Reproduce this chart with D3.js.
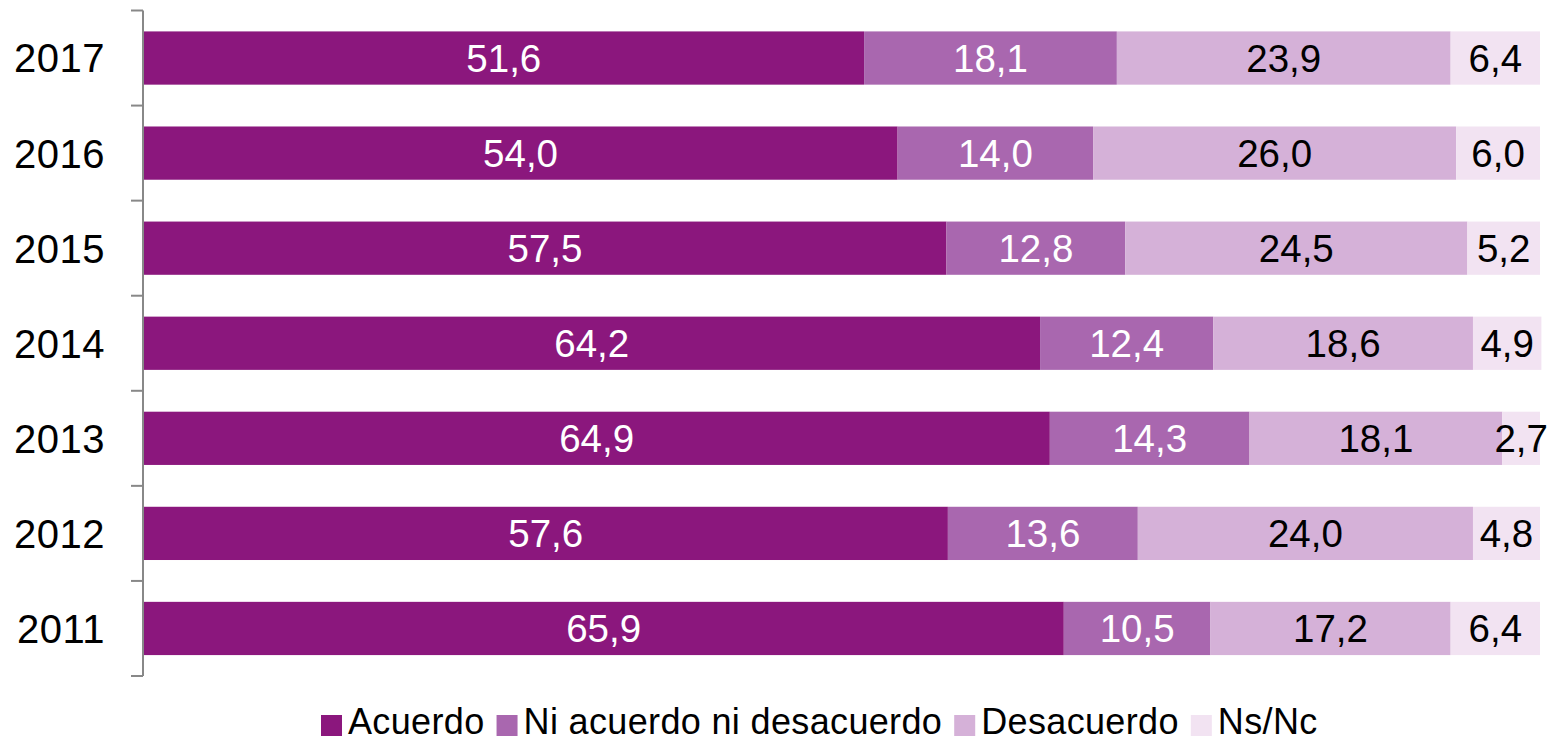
<!DOCTYPE html>
<html><head><meta charset="utf-8">
<script src="https://cdn.jsdelivr.net/npm/d3@7"></script>
<style>body{margin:0;background:#fff}svg{display:block}</style>
</head><body>
<svg id="chart" width="1551" height="742"></svg>
<script>
const years = ["2017","2016","2015","2014","2013","2012","2011"];
const seriesNames = ["Acuerdo","Ni acuerdo ni desacuerdo","Desacuerdo","Ns/Nc"];
const acuerdo    = [51.6, 54.0, 57.5, 64.2, 64.9, 57.6, 65.9];
const niAcuerdo  = [18.1, 14.0, 12.8, 12.4, 14.3, 13.6, 10.5];
const desacuerdo = [23.9, 26.0, 24.5, 18.6, 18.1, 24.0, 17.2];
const nsnc       = [6.4, 6.0, 5.2, 4.9, 2.7, 4.8, 6.4];
const colors = ["#8b177d","#a967af","#d5b1d8","#f2e3f2"];
const labelColors = ["#fff","#fff","#000","#000"];

const svg = d3.select("#chart");
const rows = years.map((y,i)=>({year:y, a:acuerdo[i], b:niAcuerdo[i], c:desacuerdo[i], d:nsnc[i]}));
const keys = ["a","b","c","d"];
const stack = d3.stack().keys(keys)(rows);

const x = d3.scaleLinear().domain([0,100]).range([143.5,1540]);
const y = d3.scaleBand().domain(years).range([10.5,676]).paddingInner(0.44).paddingOuter(0.22);

const fmt = v => v.toFixed(1).replace(".", ",");

stack.forEach((layer, k) => {
  svg.append("g").selectAll("rect").data(layer).join("rect")
    .attr("x", d => x(d[0])).attr("width", d => x(d[1]) - x(d[0]))
    .attr("y", d => y(d.data.year)).attr("height", y.bandwidth())
    .attr("fill", colors[k]);
});
stack.forEach((layer, k) => {
  svg.append("g").selectAll("text").data(layer).join("text")
    .attr("x", d => (x(d[0]) + x(d[1]))/2)
    .attr("y", d => y(d.data.year) + y.bandwidth()/2)
    .attr("dy", "0.36em")
    .attr("text-anchor","middle")
    .attr("font-family","'Liberation Sans', Arial, sans-serif")
    .attr("font-size", 38.5)
    .attr("fill", labelColors[k])
    .text(d => fmt(d.data[keys[k]]));
});

// axis
const axisG = svg.append("g");
const [r0, r1] = y.range();
axisG.append("line").attr("x1",143).attr("x2",143).attr("y1",r0).attr("y2",r1)
  .attr("stroke","#888").attr("stroke-width",2);
const gap = (y.step() - y.bandwidth())/2;
const tickYs = years.map(d => y(d) - gap).concat([y(years[years.length-1]) + y.bandwidth() + gap]);
axisG.selectAll("line.tick").data(tickYs).join("line").attr("class","tick")
  .attr("x1",131).attr("x2",143).attr("y1",d=>d).attr("y2",d=>d)
  .attr("stroke","#888").attr("stroke-width",2);
axisG.selectAll("text").data(years).join("text")
  .attr("x",105).attr("y", d => y(d) + y.bandwidth()/2).attr("dy","0.36em")
  .attr("text-anchor","end")
  .attr("font-family","'Liberation Sans', Arial, sans-serif")
  .attr("font-size",40).attr("letter-spacing",0.5).attr("fill","#000")
  .text(d=>d);

// legend
const lg = svg.append("g");
let lx = 321;
seriesNames.forEach((name,k)=>{
  lg.append("rect").attr("x",lx).attr("y",715).attr("width",21).attr("height",21).attr("fill",colors[k]);
  const t = lg.append("text").attr("x", lx+27).attr("y", 734)
    .attr("font-family","'Liberation Sans Narrow', 'Liberation Sans', sans-serif")
    .attr("font-size",36).attr("letter-spacing",0.35).attr("fill","#000").text(name);
  const w = t.node().getComputedTextLength();
  lx = lx + 27 + w + 12;
});
</script>
</body></html>
